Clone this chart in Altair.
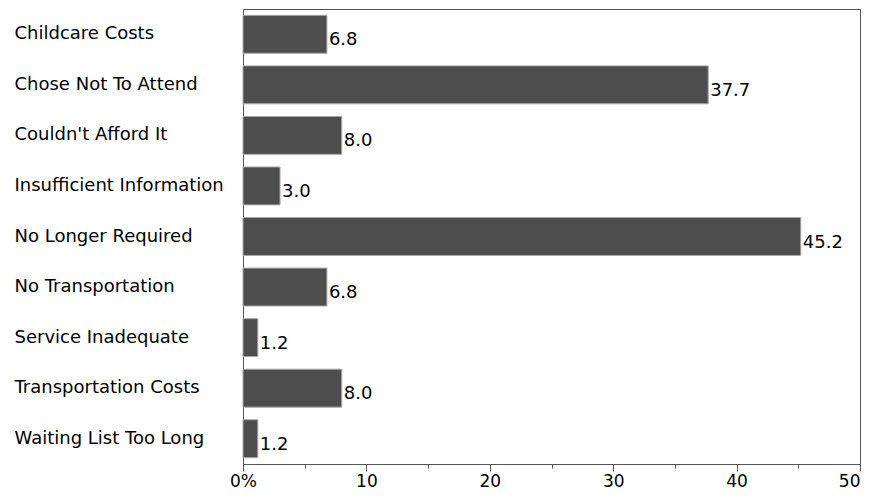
import altair as alt
import pandas as pd

categories = [
    "Childcare Costs",
    "Chose Not To Attend",
    "Couldn't Afford It",
    "Insufficient Information",
    "No Longer Required",
    "No Transportation",
    "Service Inadequate",
    "Transportation Costs",
    "Waiting List Too Long",
]
percents = [6.8, 37.7, 8.0, 3.0, 45.2, 6.8, 1.2, 8.0, 1.2]
x_ticks = [0, 5, 10, 15, 20, 25, 30, 35, 40, 45, 50]

df = pd.DataFrame({"reason": categories, "pct": percents})

FONT = "DejaVu Sans"

y_enc = alt.Y(
    "reason:N",
    sort=categories,
    scale=alt.Scale(paddingInner=0.25, paddingOuter=0.125),
    axis=alt.Axis(
        title=None,
        labelAlign="left",
        labelBaseline="middle",
        labelPadding=229,
        ticks=False,
        domain=False,
        labelFont=FONT,
        labelFontSize=18,
        labelColor="black",
        labelLimit=400,
    ),
)

x_enc = alt.X(
    "pct:Q",
    scale=alt.Scale(domain=[0, 50], nice=False),
    axis=alt.Axis(
        title=None,
        values=x_ticks,
        grid=False,
        domain=False,
        tickColor="#555555",
        tickSize={"condition": {"test": "datum.value % 10 === 0", "value": 7}, "value": 4},
        labelExpr="datum.value % 10 === 0 ? (datum.value === 0 ? '0%' : datum.label) : ''",
        labelAlign={"condition": {"test": "datum.value === 50", "value": "right"}, "value": "center"},
        labelFont=FONT,
        labelFontSize=17,
        labelColor="black",
        labelPadding=2,
        labelFlush=False,
        labelOverlap=False,
    ),
)

bars = alt.Chart(df).mark_bar(
    color="#4d4d4d", stroke="#a8a8a8", strokeWidth=1
).encode(x=x_enc, y=y_enc)

labels = alt.Chart(df).mark_text(
    align="left", baseline="middle", dx=2, dy=6, font=FONT, fontSize=18, color="black"
).encode(
    x="pct:Q",
    y=alt.Y("reason:N", sort=categories),
    text=alt.Text("pct:Q", format=".1f"),
)

chart = (
    alt.layer(bars, labels)
    .properties(
        width=617,
        height=455,
        autosize=alt.AutoSizeParams(type="none"),
        padding={"left": 235, "top": 1, "right": 2, "bottom": 29},
        background="white",
    )
    .configure_view(stroke="#555555", strokeWidth=1)
)

chart.save("out.html", embed_options={"renderer": "svg", "actions": False})
